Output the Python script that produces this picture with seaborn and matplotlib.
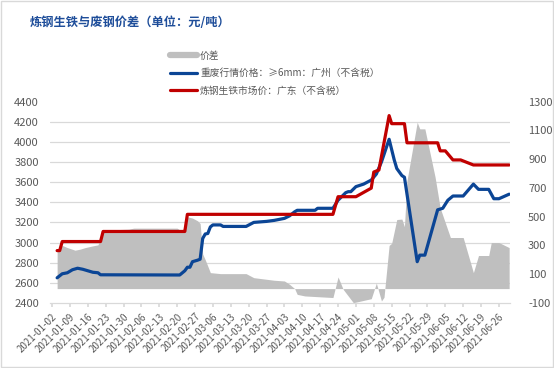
import matplotlib
matplotlib.use('Agg')
import matplotlib.pyplot as plt
from matplotlib.lines import Line2D
from matplotlib.patches import Rectangle
import pandas as pd
import seaborn as sns

# 炼钢生铁市场价：广东（不含税）
pig_dates = ['2021-01-04', '2021-01-05', '2021-01-06', '2021-01-21', '2021-01-22', '2021-02-23',
             '2021-02-24', '2021-04-22', '2021-04-24', '2021-05-01', '2021-05-07', '2021-05-08',
             '2021-05-10', '2021-05-14', '2021-05-15', '2021-05-20', '2021-05-21', '2021-06-02',
             '2021-06-03', '2021-06-05', '2021-06-08', '2021-06-11', '2021-06-16', '2021-06-30']
pig_values = [2920, 2920, 3010, 3010, 3110, 3110,
              3280, 3280, 3455, 3455, 3540, 3700,
              3720, 4260, 4180, 4180, 3990, 3990,
              3910, 3910, 3820, 3820, 3770, 3770]

# 重废行情价格：≥6mm：广州（不含税）
scrap_dates = ['2021-01-04', '2021-01-06', '2021-01-08', '2021-01-10', '2021-01-12', '2021-01-14',
               '2021-01-16', '2021-01-18', '2021-01-20', '2021-01-21', '2021-02-21', '2021-02-23',
               '2021-02-24', '2021-02-25', '2021-02-26', '2021-02-28', '2021-03-01', '2021-03-02',
               '2021-03-03', '2021-03-04', '2021-03-05', '2021-03-06', '2021-03-09', '2021-03-10',
               '2021-03-19', '2021-03-22', '2021-03-27', '2021-03-30', '2021-04-03', '2021-04-05',
               '2021-04-07', '2021-04-08', '2021-04-15', '2021-04-16', '2021-04-22', '2021-04-24',
               '2021-04-27', '2021-04-28', '2021-04-29', '2021-05-01', '2021-05-04', '2021-05-07',
               '2021-05-09', '2021-05-11', '2021-05-13', '2021-05-14', '2021-05-16', '2021-05-17',
               '2021-05-19', '2021-05-20', '2021-05-25', '2021-05-26', '2021-05-28', '2021-06-02',
               '2021-06-04', '2021-06-06', '2021-06-08', '2021-06-12', '2021-06-16', '2021-06-18',
               '2021-06-22', '2021-06-24', '2021-06-26', '2021-06-30']
scrap_values = [2650, 2690, 2700, 2730, 2745, 2735,
                2720, 2705, 2700, 2680, 2678, 2720,
                2755, 2755, 2810, 2825, 2835, 3040,
                3085, 3090, 3155, 3175, 3175, 3160,
                3160, 3200, 3210, 3220, 3240, 3265,
                3305, 3320, 3320, 3340, 3340, 3420,
                3495, 3505, 3505, 3555, 3580, 3620,
                3680, 3800, 3950, 4025, 3820, 3735,
                3665, 3648, 2810, 2875, 2875, 3325,
                3340, 3420, 3462, 3462, 3580, 3528,
                3528, 3435, 3435, 3480]

# 价差 (right axis)
spread_dates = ['2021-01-04', '2021-01-06', '2021-01-08', '2021-01-11', '2021-01-13', '2021-01-15',
                '2021-01-18', '2021-01-20', '2021-01-22', '2021-02-01', '2021-02-03', '2021-02-20',
                '2021-02-22', '2021-02-24', '2021-02-26', '2021-02-28', '2021-03-01', '2021-03-02',
                '2021-03-03', '2021-03-05', '2021-03-09', '2021-03-19', '2021-03-22', '2021-03-30',
                '2021-04-03', '2021-04-05', '2021-04-07', '2021-04-08', '2021-04-11', '2021-04-22',
                '2021-04-24', '2021-04-26', '2021-04-30', '2021-05-07', '2021-05-09', '2021-05-11',
                '2021-05-12', '2021-05-14', '2021-05-15', '2021-05-17', '2021-05-19', '2021-05-20',
                '2021-05-21', '2021-05-25', '2021-05-26', '2021-05-28', '2021-06-01', '2021-06-03',
                '2021-06-07', '2021-06-12', '2021-06-16', '2021-06-18', '2021-06-22', '2021-06-23',
                '2021-06-26', '2021-06-30']
spread_values = [265, 300, 285, 267, 274, 285,
                 297, 304, 406, 413, 420, 420,
                 397, 499, 490, 471, 452, 240,
                 200, 111, 104, 104, 76, 58,
                 53, 30, 0, -40, -51, -62,
                 81, -5, -98, -70, 38, -86,
                 -60, 300, 315, 480, 483, 430,
                 750, 1156, 1110, 1110, 775, 560,
                 355, 355, 111, 230, 230, 320,
                 320, 285]

left_ticks = list(range(2400, 4401, 200))
right_ticks = list(range(-100, 1301, 200))
week_ticks = pd.date_range('2021-01-02', '2021-06-26', freq='7D')

RED = '#C00000'
BLUE = '#0B4595'
GRAY = '#BFBFBF'
TXT = '#595959'
GRID = '#D9D9D9'

sns.set_theme(style='white')
plt.rcParams['font.family'] = ['Noto Sans CJK SC', 'DejaVu Sans']
plt.rcParams['axes.unicode_minus'] = False

fig = plt.figure(figsize=(5.54, 3.68), dpi=100)
ax = fig.add_axes([50 / 554, 1 - 303 / 368, 460 / 554, 201.5 / 368])
ax2 = ax.twinx()

# spread area behind, on the right axis
sd = pd.to_datetime(spread_dates)
ax2.fill_between(sd, 0, spread_values, color=GRAY, linewidth=0, zorder=2)
ax2.set_ylim(-100, 1300)
ax2.set_yticks(right_ticks)
ax2.set_yticklabels([str(v) for v in right_ticks])
# left-axis gridlines, drawn on the back axis so the area covers them
grid_pos = [-100 + (v - 2400) * 0.7 for v in left_ticks]
ax2.set_yticks(grid_pos, minor=True)
ax2.grid(True, which='minor', axis='y', color=GRID, linewidth=0.9, zorder=0)
ax2.grid(False, which='major')
ax2.tick_params(axis='y', which='both', length=0, pad=13, labelsize=8, labelcolor=TXT)

# price lines in front
sns.lineplot(x=pd.to_datetime(scrap_dates), y=scrap_values, ax=ax, color=BLUE, linewidth=2.3)
sns.lineplot(x=pd.to_datetime(pig_dates), y=pig_values, ax=ax, color=RED, linewidth=2.3)
ax.set_zorder(ax2.get_zorder() + 1)
ax.patch.set_visible(False)

ax.set_ylim(2400, 4400)
ax.set_yticks(left_ticks)
ax.set_yticklabels([str(v) for v in left_ticks])
ax.tick_params(axis='y', length=0, pad=8, labelsize=8, labelcolor=TXT)
ax.set_xlim(pd.Timestamp('2021-01-01 05:00'), pd.Timestamp('2021-06-30 08:00'))
ax.set_xticks(week_ticks)
ax.set_xticklabels([d.strftime('%Y-%m-%d') for d in week_ticks], rotation=45, ha='right',
                   rotation_mode='anchor', fontsize=7, color=TXT)
ax.tick_params(axis='x', length=3, color=GRID, pad=3, bottom=True)
ax.set_xlabel('')
ax.set_ylabel('')
ax2.set_ylabel('')
for a in (ax, ax2):
    for s in ('top', 'left', 'right', 'bottom'):
        a.spines[s].set_visible(False)
ax.spines['bottom'].set_visible(True)
ax.spines['bottom'].set_color(GRID)
ax.spines['bottom'].set_linewidth(0.9)

fig.text(30 / 554, 1 - 23 / 368, '炼钢生铁与废钢价差（单位：元/吨）', fontsize=8.8,
         fontweight='bold', color='#1F4E9A', va='center', ha='left')

handles = [Line2D([], [], color=GRAY, linewidth=4.5),
           Line2D([], [], color=BLUE, linewidth=2.3),
           Line2D([], [], color=RED, linewidth=2.3)]
labels = ['价差', '重废行情价格：≥6mm：广州（不含税）', '炼钢生铁市场价：广东（不含税）']
fig.legend(handles, labels, loc='upper left', bbox_to_anchor=(166 / 554, 1 - 47 / 368),
           frameon=False, fontsize=7, labelcolor=TXT, handlelength=2.8, handletextpad=0.3,
           labelspacing=0.75, borderaxespad=0)

fig.patches.append(Rectangle((0.002, 0.003), 0.996, 0.994, transform=fig.transFigure,
                             fill=False, edgecolor=GRID, linewidth=1))

fig.savefig('out.png', dpi=100)
